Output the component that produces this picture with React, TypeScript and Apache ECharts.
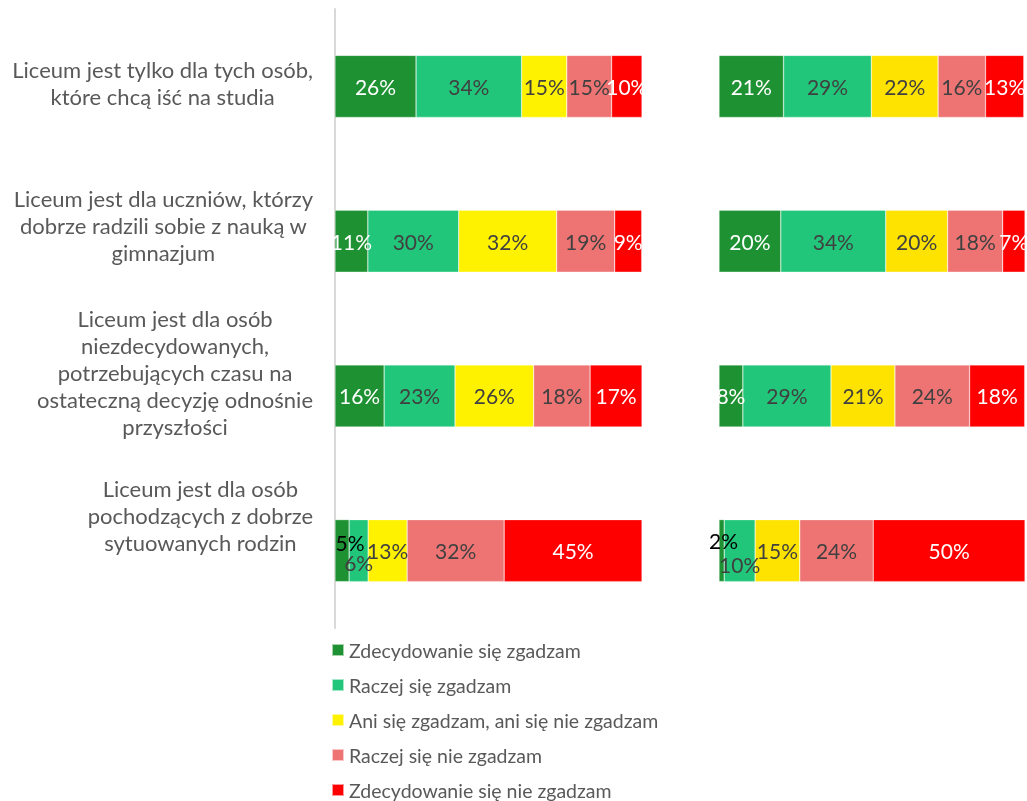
import React, { useEffect, useRef } from "react";
import * as echarts from "echarts";

const categories = [
  "Liceum jest tylko dla tych osób,\nktóre chcą iść na studia",
  "Liceum jest dla uczniów, którzy\ndobrze radzili sobie z nauką w\ngimnazjum",
  "Liceum jest dla osób\nniezdecydowanych,\npotrzebujących czasu na\nostateczną decyzję odnośnie\nprzyszłości",
  "Liceum jest dla osób\npochodzących z dobrze\nsytuowanych rodzin",
];

const seriesNames = [
  "Zdecydowanie się zgadzam",
  "Raczej się zgadzam",
  "Ani się zgadzam, ani się nie zgadzam",
  "Raczej się nie zgadzam",
  "Zdecydowanie się nie zgadzam",
];

// Left panel (percent per answer, per statement)
const leftStronglyAgree = [26.4, 10.7, 16.0, 4.6];
const leftRatherAgree = [34.4, 29.6, 23.1, 6.2];
const leftNeutral = [14.7, 31.9, 25.6, 12.7];
const leftRatherDisagree = [14.6, 18.9, 18.4, 31.6];
const leftStronglyDisagree = [9.9, 8.8, 16.9, 44.9];

// Right panel
const rightStronglyAgree = [21.1, 20.2, 7.8, 1.7];
const rightRatherAgree = [28.7, 34.3, 28.8, 10.1];
const rightNeutral = [21.8, 20.2, 20.9, 14.6];
const rightRatherDisagree = [15.5, 18.0, 24.4, 24.0];
const rightStronglyDisagree = [12.5, 7.3, 18.0, 49.6];

export default function App() {
  const ref = useRef<HTMLDivElement>(null);

  useEffect(() => {
    if (!ref.current) return;
    const chart = echarts.init(ref.current, null, { renderer: "svg" });
    const font = "Lato";
    const leftColors = ["#1E9232", "#22C67A", "#FFF200", "#EE7474", "#FF0000"];
    const rightColors = ["#1E9232", "#22C67A", "#FFE300", "#EE7474", "#FF0000"];
    const labelColors = ["#FFFFFF", "#404040", "#404040", "#404040", "#FFFFFF"];
    const leftData = [leftStronglyAgree, leftRatherAgree, leftNeutral, leftRatherDisagree, leftStronglyDisagree];
    const rightData = [rightStronglyAgree, rightRatherAgree, rightNeutral, rightRatherDisagree, rightStronglyDisagree];
    const labelShift = [6, 32, 46, 70];

    const mkData = (vals: number[], si: number, panel: number) =>
      vals.map((v, i) => {
        if (i === 3 && si === 0) {
          return { value: v, label: { color: "#000000", offset: panel === 0 ? [8, -8] : [2, -10] } };
        }
        if (i === 3 && si === 1) {
          return { value: v, label: { offset: [0, panel === 0 ? 12 : 14] } };
        }
        return v;
      });

    const series: any[] = [];
    [leftData, rightData].forEach((panelData, p) => {
      panelData.forEach((vals, si) => {
        series.push({
          type: "bar",
          name: seriesNames[si],
          stack: "s" + p,
          xAxisIndex: p,
          yAxisIndex: p,
          barWidth: 62,
          data: mkData(vals, si, p),
          itemStyle: {
            color: (p === 0 ? leftColors : rightColors)[si],
            borderColor: "rgba(255,255,255,0.6)",
            borderWidth: 0.5,
          },
          label: {
            show: true,
            position: "inside",
            color: labelColors[si],
            fontFamily: font,
            fontSize: 21,
            formatter: (pr: any) => Math.round(pr.value) + "%",
          },
        });
      });
    });

    const option: any = {
      animation: false,
      grid: [
        { left: 335, width: 307, top: 9, height: 619 },
        { left: 719, width: 306, top: 9, height: 619 },
      ],
      xAxis: [0, 1].map((i) => ({
        type: "value",
        gridIndex: i,
        min: 0,
        max: 100,
        show: false,
      })),
      yAxis: [
        {
          type: "category",
          gridIndex: 0,
          inverse: true,
          data: categories.map((c, i) => ({
            value: c,
            textStyle: { padding: [0, 0, labelShift[i], 0] },
          })),
          axisLine: { show: true, lineStyle: { color: "#D9D9D9", width: 2 } },
          axisTick: { show: false },
          axisLabel: {
            interval: 0,
            margin: 22,
            color: "#595959",
            fontFamily: font,
            fontSize: 22,
            lineHeight: 27,
            formatter: (v: string) =>
              v
                .split("\n")
                .map((l) => "{c|" + l + "}")
                .join("\n"),
            rich: {
              c: {
                align: "center",
                color: "#595959",
                fontFamily: font,
                fontSize: 22,
                lineHeight: 27,
              },
            },
          },
        },
        {
          type: "category",
          gridIndex: 1,
          inverse: true,
          data: categories,
          axisLine: { show: false },
          axisTick: { show: false },
          axisLabel: { show: false },
        },
      ],
      legend: {
        orient: "vertical",
        left: 331,
        top: 638,
        height: 200,
        padding: 0,
        itemWidth: 12,
        itemHeight: 12,
        itemGap: 11,
        icon: "rect",
        data: seriesNames,
        textStyle: { color: "#595959", fontFamily: font, fontSize: 19.5, lineHeight: 24 },
      },
      series,
    };

    chart.setOption(option);
    return () => chart.dispose();
  }, []);

  return (
    <div
      ref={ref}
      style={{ position: "fixed", left: 0, top: 0, width: 1027, height: 801 }}
    />
  );
}
